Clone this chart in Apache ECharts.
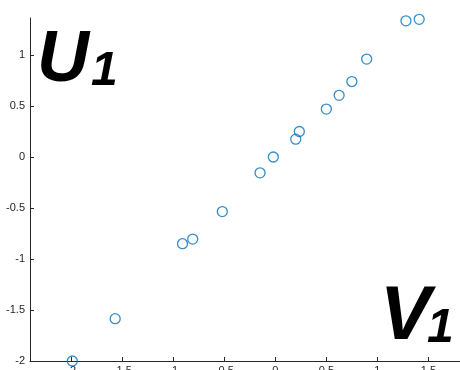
<!DOCTYPE html>
<html>
<head>
<meta charset="utf-8">
<script src="https://cdn.jsdelivr.net/npm/echarts@6/dist/echarts.min.js"></script>
<style>html,body{margin:0;padding:0;background:#fff}#c{width:460px;height:370px}</style>
</head>
<body>
<div id="c"></div>
<script>
const xValues = [-1.99, -1.57, -0.91, -0.81, -0.52, -0.15, -0.02, 0.20, 0.235, 0.50, 0.625, 0.75, 0.895, 1.28, 1.41];
const yValues = [-2.00, -1.585, -0.85, -0.805, -0.535, -0.155, 0.00, 0.175, 0.25, 0.47, 0.605, 0.74, 0.96, 1.335, 1.35];
const xTicks = [-2, -1.5, -1, -0.5, 0, 0.5, 1, 1.5];
const yTicks = [-2, -1.5, -1, -0.5, 0, 0.5, 1];
const yLabel = 'U';
const xLabel = 'V';
const sub = '1';

const chart = echarts.init(document.getElementById('c'), null, {renderer: 'canvas'});
const axisColor = '#262626';
const font = 'Liberation Sans, Arial, Helvetica, sans-serif';
const fmt = v => String(v);
chart.setOption({
  animation: false,
  grid: {left: 30, right: 0, top: 18, bottom: 9, containLabel: false, outerBoundsMode: 'none'},
  xAxis: {
    type: 'value', min: -2.405, max: 1.81,
    axisLine: {show: true, onZero: false, lineStyle: {color: axisColor, width: 1}},
    axisTick: {show: true, inside: true, length: 4, customValues: xTicks, lineStyle: {color: axisColor}},
    axisLabel: {customValues: xTicks, formatter: fmt, color: axisColor, fontSize: 11, fontFamily: font, margin: 4, showMinLabel: true, showMaxLabel: true},
    splitLine: {show: false}
  },
  yAxis: {
    type: 'value', min: -2, max: 1.363,
    axisLine: {show: true, onZero: false, lineStyle: {color: axisColor, width: 1}},
    axisTick: {show: true, inside: true, length: 4, customValues: yTicks, lineStyle: {color: axisColor}},
    axisLabel: {customValues: yTicks, formatter: fmt, color: axisColor, fontSize: 11, fontFamily: font, margin: 5},
    splitLine: {show: false}
  },
  series: [{
    type: 'scatter',
    data: xValues.map((x, i) => [x, yValues[i]]),
    symbol: 'circle',
    symbolSize: 10,
    itemStyle: {color: 'rgba(0,0,0,0)', borderColor: '#0072BD', borderWidth: 1.3},
    clip: false
  }],
  graphic: [
    {type: 'text', x: 37, y: 61, style: {text: yLabel, fontSize: 72, fontWeight: 'bold', fontStyle: 'italic', fontFamily: font, fill: '#000', verticalAlign: 'middle', align: 'left'}},
    {type: 'text', x: 91, y: 72, style: {text: sub, fontSize: 48, fontWeight: 'bold', fontStyle: 'italic', fontFamily: font, fill: '#000', verticalAlign: 'middle', align: 'left'}},
    {type: 'text', x: 380, y: 318.5, style: {text: xLabel, fontSize: 76, fontWeight: 'bold', fontStyle: 'italic', fontFamily: font, fill: '#000', verticalAlign: 'middle', align: 'left'}},
    {type: 'text', x: 427, y: 328.5, style: {text: sub, fontSize: 48, fontWeight: 'bold', fontStyle: 'italic', fontFamily: font, fill: '#000', verticalAlign: 'middle', align: 'left'}}
  ]
});
</script>
</body>
</html>
